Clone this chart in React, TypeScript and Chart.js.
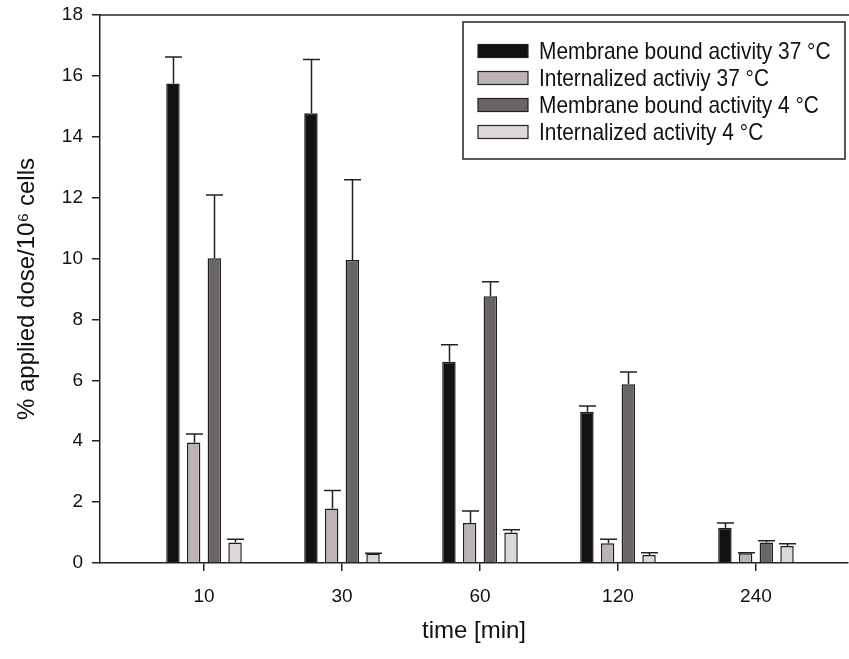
import React, { useEffect, useRef } from 'react';
import { Chart, registerables } from 'chart.js';

Chart.register(...registerables);

const FONT = "'Liberation Sans', Arial, Helvetica, sans-serif";

// time points (x categories)
const categories = ['10', '30', '60', '120', '240'];

// series labels
const labelMembrane37 = 'Membrane bound activity 37 °C';
const labelInternal37 = 'Internalized activiy 37 °C';
const labelMembrane4 = 'Membrane bound activity 4 °C';
const labelInternal4 = 'Internalized activity 4 °C';

// mean values (% applied dose / 10^6 cells)
const membrane37 = [15.75, 14.77, 6.61, 4.97, 1.16];
const internal37 = [3.96, 1.79, 1.31, 0.65, 0.32];
const membrane4 = [10.01, 9.95, 8.76, 5.87, 0.67];
const internal4 = [0.67, 0.3, 1.0, 0.26, 0.56];

// standard deviations (upper error bars)
const membrane37Sd = [0.87, 1.77, 0.56, 0.19, 0.15];
const internal37Sd = [0.28, 0.59, 0.4, 0.13, 0.02];
const membrane4Sd = [2.08, 2.64, 0.48, 0.4, 0.06];
const internal4Sd = [0.11, 0.02, 0.09, 0.08, 0.07];

// y-axis ticks
const yTicks = [0, 2, 4, 6, 8, 10, 12, 14, 16, 18];

const toPoints = (arr: number[]) => arr.map((v, i) => ({ x: i, y: v }));

const errorBarPlugin = {
  id: 'errorBars',
  afterDatasetsDraw(chart: any) {
    const { ctx } = chart;
    const yScale = chart.scales.y;
    ctx.save();
    ctx.strokeStyle = '#222';
    ctx.lineWidth = 1.5;
    chart.data.datasets.forEach((ds: any, di: number) => {
      const meta = chart.getDatasetMeta(di);
      meta.data.forEach((el: any, i: number) => {
        const v = ds.data[i].y;
        const sd = ds.errors[i];
        const yTop = yScale.getPixelForValue(v + sd);
        const x = Math.round(el.x) + 0.5;
        ctx.beginPath();
        ctx.moveTo(x, el.y);
        ctx.lineTo(x, yTop);
        ctx.moveTo(x - 8.5, yTop);
        ctx.lineTo(x + 8.5, yTop);
        ctx.stroke();
      });
    });
    ctx.restore();
  },
};

const framePlugin = {
  id: 'frameTop',
  afterDraw(chart: any) {
    const { ctx, chartArea } = chart;
    ctx.save();
    ctx.strokeStyle = '#222';
    ctx.lineWidth = 1.5;
    ctx.beginPath();
    ctx.moveTo(chartArea.left, chartArea.top);
    ctx.lineTo(chartArea.right + 2, chartArea.top);
    ctx.stroke();
    ctx.restore();
  },
};

const legendPlugin = {
  id: 'boxLegend',
  afterDraw(chart: any) {
    const { ctx, chartArea } = chart;
    const right = chartArea.right - 3;
    const left = right - 382;
    const top = chartArea.top + 7;
    const height = 137;
    ctx.save();
    ctx.fillStyle = '#ffffff';
    ctx.fillRect(left, top, right - left, height);
    ctx.strokeStyle = '#222';
    ctx.lineWidth = 1.5;
    ctx.strokeRect(left, top, right - left, height);
    chart.data.datasets.forEach((ds: any, i: number) => {
      const cy = top + 29 + i * 27;
      ctx.fillStyle = ds.backgroundColor;
      ctx.fillRect(left + 15, cy - 6.5, 50, 13);
      ctx.lineWidth = 1.2;
      ctx.strokeStyle = '#222';
      ctx.strokeRect(left + 15, cy - 6.5, 50, 13);
      ctx.save();
      ctx.translate(left + 76, cy);
      ctx.scale(0.87, 1);
      ctx.fillStyle = '#111';
      ctx.font = `24px ${FONT}`;
      ctx.textBaseline = 'middle';
      ctx.textAlign = 'left';
      ctx.fillText(ds.label, 0, 1);
      ctx.restore();
    });
    ctx.restore();
  },
};

export default function App() {
  const canvasRef = useRef<HTMLCanvasElement | null>(null);

  useEffect(() => {
    if (!canvasRef.current) return;
    const mk = (label: string, data: number[], errors: number[], color: string) => ({
      label,
      data: toPoints(data),
      errors,
      backgroundColor: color,
      borderColor: '#1e1c1c',
      borderWidth: 1.5,
      borderSkipped: 'bottom',
      categoryPercentage: 0.6,
      barPercentage: 0.65,
    });
    const chart = new Chart(canvasRef.current, {
      type: 'bar',
      data: {
        datasets: [
          mk(labelMembrane37, membrane37, membrane37Sd, '#141211'),
          mk(labelInternal37, internal37, internal37Sd, '#bcb4b4'),
          mk(labelMembrane4, membrane4, membrane4Sd, '#6a6565'),
          mk(labelInternal4, internal4, internal4Sd, '#dcd8d8'),
        ] as any,
      },
      options: {
        animation: false,
        responsive: false,
        devicePixelRatio: 1,
        layout: { padding: { top: 15, right: 1, left: 0, bottom: 0 } },
        plugins: {
          legend: { display: false },
          tooltip: { enabled: false },
        },
        scales: {
          x: {
            type: 'linear',
            min: -0.7536,
            max: 4.667,
            offset: false,
            afterBuildTicks: (scale: any) => {
              scale.ticks = categories.map((_, i) => ({ value: i }));
            },
            ticks: {
              callback: (v: any) => categories[v] ?? '',
              font: { family: FONT, size: 19 },
              color: '#111',
              padding: 14,
              maxRotation: 0,
              autoSkip: false,
            },
            grid: {
              offset: false,
              drawOnChartArea: false,
              drawTicks: true,
              tickLength: 8,
              color: '#222',
              lineWidth: 1.5,
            },
            border: { display: true, color: '#222', width: 1.5 },
            title: {
              display: true,
              text: 'time [min]',
              font: { family: FONT, size: 24 },
              color: '#111',
              padding: { top: 0, bottom: 13 },
            },
            afterFit: (scale: any) => {
              scale.height = 96;
              scale.paddingLeft = 0;
              scale.paddingRight = 0;
            },
          },
          y: {
            min: 0,
            max: 18,
            afterBuildTicks: (scale: any) => {
              scale.ticks = yTicks.map((v) => ({ value: v }));
            },
            ticks: {
              font: { family: FONT, size: 19 },
              color: '#111',
              padding: 9,
            },
            grid: {
              drawOnChartArea: false,
              drawTicks: true,
              tickLength: 8,
              color: '#222',
              lineWidth: 1.5,
            },
            border: { display: true, color: '#222', width: 1.5 },
            title: {
              display: true,
              text: '% applied dose/10⁶ cells',
              font: { family: FONT, size: 24 },
              color: '#111',
              padding: { top: 13, bottom: 0 },
            },
            afterFit: (scale: any) => {
              scale.width = 100;
              scale.paddingTop = 0;
              scale.paddingBottom = 0;
            },
          },
        },
      } as any,
      plugins: [errorBarPlugin, framePlugin, legendPlugin],
    });
    return () => chart.destroy();
  }, []);

  return (
    <div style={{ position: 'fixed', left: 0, top: 0, width: 849, height: 659, background: '#fff' }}>
      <canvas ref={canvasRef} width={849} height={659} style={{ display: 'block' }} />
    </div>
  );
}
